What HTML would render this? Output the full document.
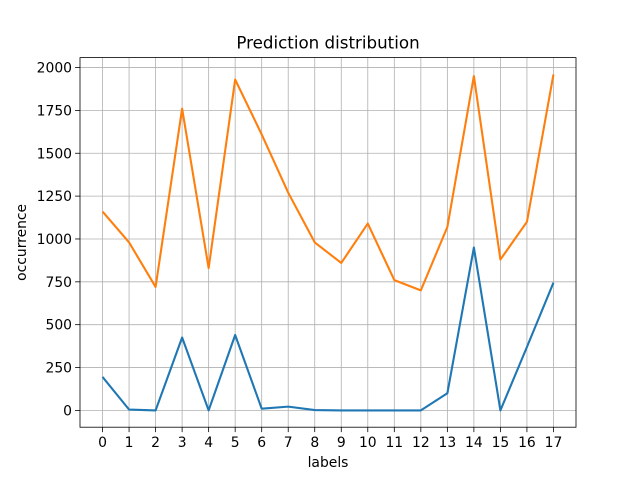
<!DOCTYPE html>
<html><head><meta charset="utf-8"><style>
body{margin:0;background:#fff;}
svg text{font-family:"DejaVu Sans","Liberation Sans",sans-serif;fill:#000;}
</style></head><body>
<svg id="chart" width="640" height="480" xmlns="http://www.w3.org/2000/svg"></svg>
<script>
const categories=[0,1,2,3,4,5,6,7,8,9,10,11,12,13,14,15,16,17];
const seriesBlue=[195,5,0,425,0,440,10,22,2,0,0,0,0,100,950,0,370,745];
const seriesOrange=[1160,980,720,1760,830,1930,1610,1270,980,860,1090,760,700,1070,1950,880,1100,1960];
const yTicks=[0,250,500,750,1000,1250,1500,1750,2000];
const NS="http://www.w3.org/2000/svg";
const svg=document.getElementById('chart');
const L=80,R=576,T=57.6,B=427.2;
const allV=seriesBlue.concat(seriesOrange);
const vmin=Math.min(...allV),vmax=Math.max(...allV),m=(vmax-vmin)*0.05;
const y0=vmin-m,y1=vmax+m;
const xmin=categories[0],xmax=categories[categories.length-1],xm=(xmax-xmin)*0.05;
function x(v){return L+(v-(xmin-xm))/((xmax+xm)-(xmin-xm))*(R-L);}
function y(v){return B-(v-y0)/(y1-y0)*(B-T);}
function el(t,a,p){const e=document.createElementNS(NS,t);for(const k in a)e.setAttribute(k,a[k]);(p||svg).appendChild(e);return e;}
const grid=el('g',{});


categories.forEach(c=>{
 el('line',{x1:x(c),x2:x(c),y1:T,y2:B,stroke:'#b0b0b0','stroke-width':0.8},grid);
 const tk=el('line',{x1:x(c),x2:x(c),y1:B,y2:B+4.9,stroke:'#000','stroke-width':0.8});
 
 
 const t=el('text',{x:x(c),y:B+20,'text-anchor':'middle','font-size':13.9});
 
 
 t.textContent=c;
});
yTicks.forEach(v=>{
 el('line',{x1:L,x2:R,y1:y(v),y2:y(v),stroke:'#b0b0b0','stroke-width':0.8},grid);
 el('line',{x1:L-4.9,x2:L,y1:y(v),y2:y(v),stroke:'#000','stroke-width':0.8});
 const t=el('text',{x:L-8,y:y(v)+5,'text-anchor':'end','font-size':13.9});
 
 
 t.textContent=v;
});
function line(data,color,name){
 const p=el('polyline',{points:data.map((v,i)=>x(categories[i])+','+y(v)).join(' '),fill:'none',stroke:color,'stroke-width':2.1,'stroke-linejoin':'round'});
 
 
}
line(seriesBlue,'#1f77b4','series-blue-line');
line(seriesOrange,'#ff7f0e','series-orange-line');
const fr=el('rect',{x:L,y:T,width:R-L,height:B-T,fill:'none',stroke:'#000','stroke-width':0.8});


const tt=el('text',{x:(L+R)/2,y:T-9,'text-anchor':'middle','font-size':16.7});


tt.textContent='Prediction distribution';
const xl=el('text',{x:(L+R)/2,y:467,'text-anchor':'middle','font-size':13.9});


xl.textContent='labels';
const yl=el('text',{x:0,y:0,'text-anchor':'middle','font-size':13.9,transform:'translate(26,'+((T+B)/2)+') rotate(-90)'});


yl.textContent='occurrence';
</script>
</body></html>
